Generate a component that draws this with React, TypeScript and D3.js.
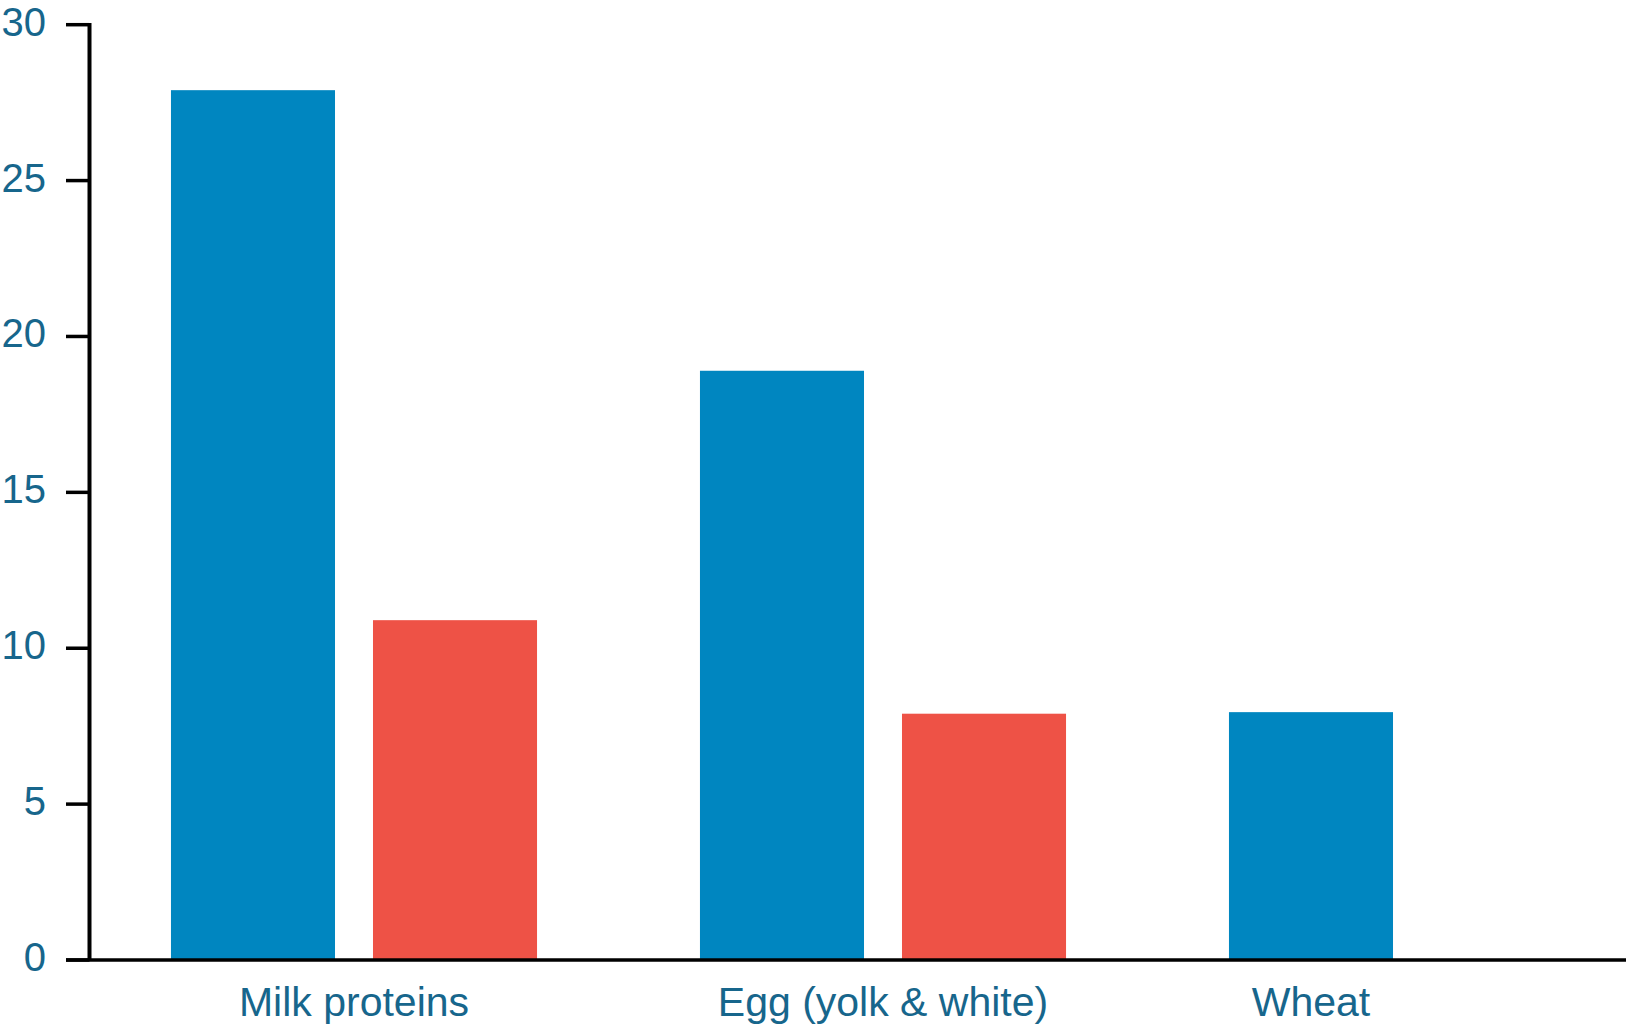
import React from "react";
import * as d3 from "d3";

const categories = ["Milk proteins", "Egg (yolk & white)", "Wheat"];
const seriesKeys = ["first", "second"];
const firstValues = [27.9, 18.9, 7.95];
const secondValues: (number | null)[] = [10.9, 7.9, null];
const yTicks = [0, 5, 10, 15, 20, 25, 30];

const W = 1626;
const H = 1027;
const AXIS_X = 89.5;
const Y0 = 960;
const Y30 = 24.7;
const BLUE = "#0086c0";
const RED = "#ee5246";
const TEXT = "#17668c";
const FONT = "'Liberation Sans', Arial, Helvetica, sans-serif";

export default function App() {
  const y = d3.scaleLinear().domain([0, 30]).range([Y0, Y30]);
  const x0 = d3
    .scaleBand<string>()
    .domain(categories)
    .range([AXIS_X, AXIS_X + 529 * 3])
    .paddingInner(0.308)
    .paddingOuter(0.154);
  const x1 = d3
    .scaleBand<string>()
    .domain(seriesKeys)
    .range([0, x0.bandwidth()])
    .paddingInner(0.188)
    .paddingOuter(0);

  const bars: { key: string; x: number; y: number; w: number; h: number; fill: string }[] = [];
  const labels: { text: string; cx: number }[] = [];
  categories.forEach((c, i) => {
    const vals: [string, number | null, string][] = [
      ["first", firstValues[i], BLUE],
      ["second", secondValues[i], RED],
    ];
    const xs: number[] = [];
    vals.forEach(([k, v, fill]) => {
      if (v == null) return;
      const bx = (x0(c) as number) + (x1(k) as number);
      xs.push(bx, bx + x1.bandwidth());
      bars.push({ key: c + k, x: bx, y: y(v), w: x1.bandwidth(), h: y(0) - y(v), fill });
    });
    labels.push({ text: c, cx: (d3.min(xs)! + d3.max(xs)!) / 2 });
  });

  return (
    <svg
      width={W}
      height={H}
      style={{ position: "absolute", left: 0, top: 0, background: "#fff" }}
      fontFamily={FONT}
    >
      <rect x={0} y={0} width={W} height={H} fill="#fff" />
      {bars.map((b) => (
        <rect key={b.key} x={b.x} y={b.y} width={b.w} height={b.h} fill={b.fill} />
      ))}
      {/* y axis */}
      <line x1={AXIS_X} x2={AXIS_X} y1={y(30) - 1.75} y2={y(0)} stroke="#000" strokeWidth={4} />
      {yTicks.map((t) => (
        <g key={t}>
          <line x1={66} x2={AXIS_X} y1={y(t)} y2={y(t)} stroke="#000" strokeWidth={3.5} />
          <text
            x={46}
            y={y(t) + 11}
            textAnchor="end"
            fontSize={40}
            fill={TEXT}
          >
            {t}
          </text>
        </g>
      ))}
      {/* x axis */}
      <line x1={66} x2={W} y1={y(0)} y2={y(0)} stroke="#000" strokeWidth={3.5} />
      {labels.map((l) => (
        <text key={l.text} x={l.cx} y={1016} textAnchor="middle" fontSize={41} fill={TEXT}>
          {l.text}
        </text>
      ))}
    </svg>
  );
}
